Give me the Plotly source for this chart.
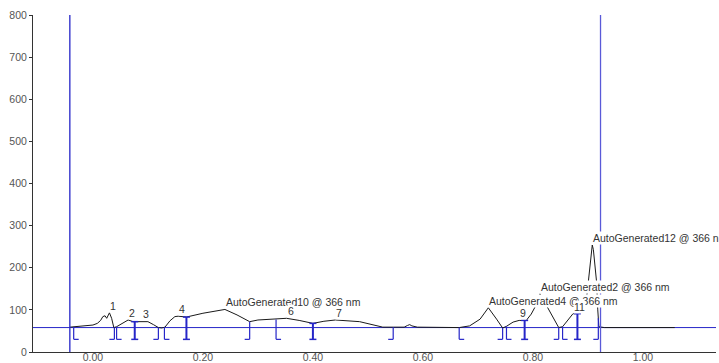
import numpy as np
import plotly.graph_objects as go

# Chromatogram at 366 nm: retention time (min) and detector response (mAU)
time = [-0.042, -0.020, 0.000, 0.008, 0.014, 0.018, 0.022, 0.025, 0.030, 0.034,
        0.038, 0.043, 0.055, 0.064, 0.073, 0.080, 0.089, 0.100, 0.110, 0.119,
        0.125, 0.131, 0.140, 0.149, 0.155, 0.170, 0.200, 0.240, 0.262, 0.285,
        0.300, 0.315, 0.333, 0.352, 0.375, 0.400, 0.420, 0.441, 0.485, 0.527,
        0.546, 0.566, 0.572, 0.576, 0.580, 0.590, 0.666, 0.685, 0.704, 0.719,
        0.734, 0.745, 0.752, 0.764, 0.775, 0.788, 0.797, 0.804, 0.813, 0.825,
        0.837, 0.847, 0.854, 0.867, 0.873, 0.881, 0.890, 0.897, 0.9006, 0.904,
        0.906, 0.908, 0.910, 0.9125, 0.9158, 0.918, 0.920, 0.930, 1.058]
signal = [59, 61, 64, 68, 75, 84, 86, 80, 93, 80,
          58, 60, 70, 76, 72, 72, 73, 72, 65, 58,
          57, 59, 74, 84, 85, 83, 92, 101, 88, 72,
          76, 77, 77, 80, 75, 68, 73, 76, 72, 59,
          59, 59, 63, 65, 62, 59, 58, 62, 78, 105,
          78, 57, 61, 71, 75, 75, 90, 107, 138, 111,
          83, 58, 60, 80, 91, 91, 98, 120, 167, 215,
          243, 254, 243, 215, 167, 100, 60, 58, 58]

# Integration events
peak_starts = [-0.035, 0.043, 0.130, 0.333, 0.666, 0.752, 0.854]
peak_ends = [0.039, 0.119, 0.285, 0.546, 0.745, 0.847, 0.919]
apex_marks = [0.076, 0.170, 0.400, 0.785, 0.881]

# Peak names and apex retention times
peak_labels = ["1", "2", "3", "4", "AutoGenerated10 @ 366 nm", "6", "7",
               "AutoGenerated4 @ 366 nm", "9", "AutoGenerated2 @ 366 nm", "11",
               "AutoGenerated12 @ 366 nm"]
peak_times = [0.030, 0.064, 0.089, 0.155, 0.240, 0.352, 0.441,
              0.719, 0.775, 0.813, 0.873, 0.908]

baseline_level = 58
event_floor = 30
window_start = -0.042
window_end = 0.923
x_ticks = [0.0, 0.2, 0.4, 0.6, 0.8, 1.0]

BLUE = "#2626c8"
FONT = "Liberation Sans, Arial, sans-serif"

def level(t):
    return float(np.interp(t, time, signal))

fig = go.Figure()
fig.add_trace(go.Scatter(x=time, y=signal, mode="lines",
                         line=dict(color="#1a1a1a", width=1), hoverinfo="skip"))

shapes = []
# baseline and integration window
shapes.append(dict(type="line", xref="paper", yref="y", x0=0, x1=1,
                   y0=baseline_level, y1=baseline_level, layer="below",
                   line=dict(color=BLUE, width=1)))
for xw, col in [(window_start, BLUE), (window_end, "#5a5ad8")]:
    shapes.append(dict(type="line", xref="x", yref="paper", x0=xw, x1=xw,
                       y0=0, y1=1, line=dict(color=col, width=1.3)))

def drop(t, width):
    shapes.append(dict(type="line", xref="x", yref="y", x0=t, x1=t,
                       y0=level(t), y1=event_floor, line=dict(color=BLUE, width=width)))

def tick(t, y, a, b, width):
    shapes.append(dict(type="line", xref="x", yref="y", xsizemode="pixel", xanchor=t,
                       x0=a, x1=b, y0=y, y1=y, line=dict(color=BLUE, width=width)))

for t in peak_starts:
    drop(t, 1.2)
    tick(t, event_floor, 0, 5, 1.2)
for t in peak_ends:
    drop(t, 1.2)
    tick(t, event_floor, -5, 0, 1.2)
for t in apex_marks:
    drop(t, 2)
    tick(t, event_floor, -3.5, 3.5, 1.5)
    tick(t, level(t), -3.5, 3.5, 1.5)

annotations = []
for name, t in zip(peak_labels, peak_times):
    annotations.append(dict(x=t, y=level(t), xref="x", yref="y", text=name,
                            showarrow=False, xanchor="left", yanchor="bottom",
                            bgcolor="white", borderpad=0,
                            font=dict(family=FONT, size=10.5, color="#333")))

fig.update_layout(
    width=719, height=363, autosize=False,
    margin=dict(l=33, r=3, t=15, b=11),
    paper_bgcolor="white", plot_bgcolor="white",
    showlegend=False, shapes=shapes, annotations=annotations,
    font=dict(family=FONT, size=10.5, color="#555"),
    xaxis=dict(range=[-0.109, 1.133], tickvals=x_ticks, tickformat=".2f",
               showline=True, linecolor="#333", linewidth=1, ticks="",
               showgrid=False, zeroline=False, automargin=False,
               ticklabelstandoff=-5,
               tickfont=dict(family=FONT, size=10.5, color="#555")),
    yaxis=dict(range=[0, 800], dtick=100, showline=True, linecolor="#333",
               linewidth=1, ticks="outside", ticklen=3, tickcolor="#333",
               showgrid=False, zeroline=False, automargin=False,
               tickfont=dict(family=FONT, size=10.5, color="#555")),
)

fig.write_html("out.html")
